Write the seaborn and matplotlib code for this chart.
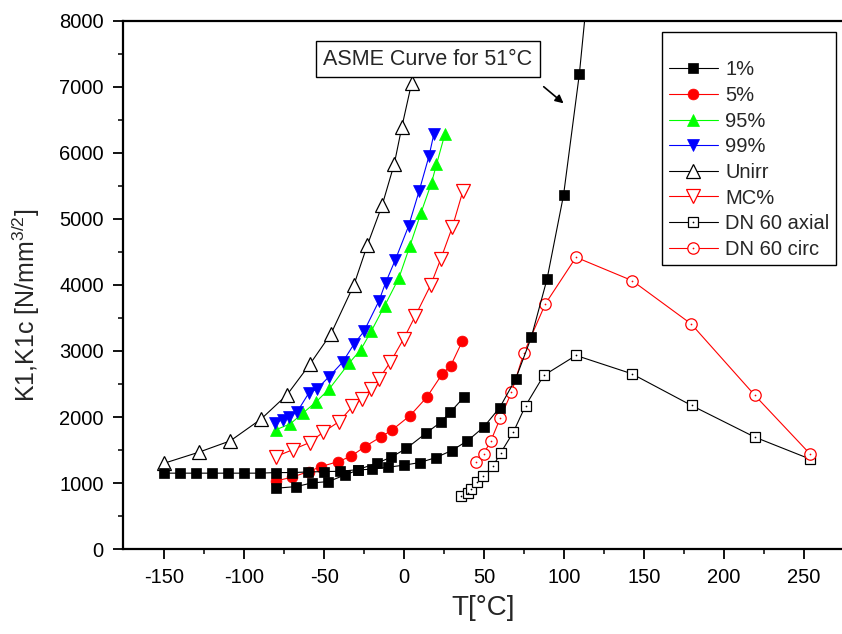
import matplotlib
matplotlib.use("Agg")
import matplotlib.pyplot as plt
from matplotlib.legend_handler import HandlerTuple
import seaborn as sns

# ---------------- data ----------------
p1_x = [-150, -140, -130, -120, -110, -100, -90, -80.2, -70, -60, -50, -40, -29, -17, -8, 1.5, 13.5, 23, 29, 37.3]
p1_y = [1152, 1152, 1152, 1152, 1152, 1152, 1152, 1161, 1161, 1170, 1176, 1180, 1205, 1303, 1394, 1527, 1752, 1924, 2076, 2297]

asme_x = [-80.2, -67.4, -57.5, -47.4, -36.8, -28.6, -19.9, -10, -0.3, 9.8, 19.9, 29.8, 39.7, 49.8, 59.9, 69.9, 79.6, 89.5, 99.8, 109.7, 119.5]
asme_y = [924, 949, 1005, 1024, 1126, 1202, 1212, 1242, 1272, 1312, 1388, 1494, 1641, 1848, 2145, 2580, 3206, 4091, 5358, 7191, 9600]

p5_x = [-80.2, -70.4, -59.8, -51.9, -41.2, -33.1, -24.6, -14.6, -7.6, 3.8, 14.1, 24, 29.2, 36.4]
p5_y = [1035, 1088, 1176, 1252, 1327, 1408, 1552, 1700, 1803, 2024, 2297, 2656, 2777, 3145]

p95_x = [-80.2, -71.2, -63.3, -54.8, -46.7, -34.2, -27.1, -20.6, -12.1, -3.2, 3.6, 10.6, 17.2, 20.3, 25.5]
p95_y = [1808, 1898, 2060, 2236, 2430, 2822, 3020, 3297, 3686, 4106, 4585, 5091, 5545, 5823, 6277]

p99_x = [-80.5, -76, -71.9, -67, -59.6, -54.6, -47, -38.5, -31.3, -25.1, -15.8, -11.6, -5.4, 2.8, 9.4, 15.6, 18.7]
p99_y = [1915, 1959, 2009, 2076, 2364, 2424, 2610, 2830, 3106, 3297, 3752, 4030, 4383, 4888, 5418, 5948, 6288]

unirr_x = [-150, -128.3, -108.7, -89.5, -73.2, -58.7, -45.7, -31.3, -23, -13.7, -6.1, -1.4, 4.8]
unirr_y = [1303, 1470, 1641, 1970, 2338, 2808, 3262, 4005, 4600, 5206, 5833, 6388, 7061]

mc_x = [-80.2, -69.8, -59.1, -50.5, -40.6, -32.3, -26.5, -20.9, -15.8, -8.5, -0.3, 6.9, 16.8, 23, 30.2, 36.8]
mc_y = [1403, 1505, 1615, 1773, 1933, 2161, 2273, 2424, 2576, 2833, 3182, 3524, 4005, 4394, 4873, 5418]

axial_x = [35.4, 39.9, 41.6, 45.5, 49.7, 55.9, 60.6, 68.4, 76, 87.4, 107.6, 142.5, 179.9, 219.5, 254.2]
axial_y = [808, 858, 914, 1015, 1111, 1267, 1464, 1773, 2171, 2630, 2933, 2656, 2176, 1697, 1364]

circ_x = [45.1, 49.8, 54.4, 60.2, 67.2, 75, 88.4, 107.6, 142.7, 179.7, 219.6, 254.2]
circ_y = [1318, 1444, 1645, 1985, 2373, 2970, 3712, 4418, 4065, 3409, 2327, 1439]

labels = ["1%", "5%", "95%", "99%", "Unirr", "MC%", "DN 60 axial", "DN 60 circ"]
x_ticks = [-150, -100, -50, 0, 50, 100, 150, 200, 250]
y_ticks = [0, 1000, 2000, 3000, 4000, 5000, 6000, 7000, 8000]
annot_text = "ASME Curve for 51°C"

# ---------------- style ----------------
sns.set_theme(style="ticks")
plt.rcParams["font.family"] = ["Liberation Sans", "DejaVu Sans"]
plt.rcParams["mathtext.default"] = "regular"
plt.rcParams["axes.unicode_minus"] = False

fig = plt.figure(figsize=(8.42, 6.34), dpi=100)
ax = fig.add_axes([122.5 / 842, (634 - 549.3) / 634, 721 / 842, 528.8 / 634])

LW = 0.8


def series(x, y, color, marker, ms, fc, ec, mew=1.0, label=None, z=2):
    sns.lineplot(x=x, y=y, ax=ax, sort=False, estimator=None, color=color,
                 linewidth=LW, marker=marker, markersize=ms,
                 markerfacecolor=fc, markeredgecolor=ec, markeredgewidth=mew,
                 label=label, zorder=z)
    return ax.lines[-1]


h5 = series(p5_x, p5_y, "red", "o", 7.8, "red", "red", 0.5, "5%", 2)
h95 = series(p95_x, p95_y, "#00ff00", "^", 9.0, "#00ff00", "#00ff00", 0.5, "95%", 2)
h99 = series(p99_x, p99_y, "blue", "v", 9.0, "blue", "blue", 0.5, "99%", 2)
hun = series(unirr_x, unirr_y, "black", "^", 9.5, "white", "black", 0.9, "Unirr", 2)
hmc = series(mc_x, mc_y, "red", "v", 9.5, "white", "red", 0.9, "MC%", 2)
hax = series(axial_x, axial_y, "black", "s", 7.0, "white", "black", 0.9, "DN 60 axial", 3)
hax_d = series(axial_x, axial_y, "black", ".", 1.5, "black", "black", 0.5, None, 3)
hax_d.set_linestyle("none")
hci = series(circ_x, circ_y, "red", "o", 8.2, "white", "red", 0.9, "DN 60 circ", 3)
hci_d = series(circ_x, circ_y, "red", ".", 1.5, "red", "red", 0.5, None, 3)
hci_d.set_linestyle("none")
h1 = series(p1_x, p1_y, "black", "s", 7.5, "black", "black", 0.5, "1%", 4)
series(asme_x, asme_y, "black", "s", 7.5, "black", "black", 0.5, None, 4)

# ---------------- axes ----------------
ax.set_xlim(-176.2, 271.9)
ax.set_ylim(0, 8000)
ax.set_xticks(x_ticks)
ax.set_yticks(y_ticks)
ax.set_xticks([t + 25 for t in [-175] + x_ticks], minor=True)
ax.set_yticks([t + 500 for t in y_ticks[:-1]], minor=True)
ax.tick_params(which="major", direction="out", length=7.5, width=1.3,
               labelsize=14.5, pad=6, colors="black")
ax.tick_params(which="minor", direction="out", length=3.8, width=1.3)
ax.tick_params(top=False, right=False, which="both")
for s in ax.spines.values():
    s.set_linewidth(1.6)
    s.set_color("black")
    s.set_visible(True)

ax.set_xlabel("T[°C]", fontsize=20, labelpad=6)
ax.set_ylabel(r"K1,K1c [N/mm$^{3/2}$]", fontsize=18)
ax.yaxis.set_label_coords(-0.112, 0.462)

# ---------------- annotation ----------------
ax.text(14.9, 7417, annot_text, ha="center", va="center", fontsize=15.5,
        bbox=dict(boxstyle="square,pad=0.33", fc="white", ec="black", lw=1.0),
        zorder=6)
ax.annotate("", xy=(99.8, 6747), xytext=(87.4, 6998),
            arrowprops=dict(arrowstyle="-|>", color="black", lw=1.2,
                            mutation_scale=12, shrinkA=0, shrinkB=0), zorder=6)

# ---------------- legend ----------------
leg0 = ax.get_legend()
if leg0 is not None:
    leg0.remove()
handles = [h1, h5, h95, h99, hun, hmc, (hax, hax_d), (hci, hci_d)]
leg = ax.legend(handles, labels, loc="upper left",
                bbox_to_anchor=(662 / 842, 1 - 32 / 634),
                bbox_transform=fig.transFigure, borderaxespad=0,
                fontsize=14.5, title=" ", title_fontsize=12,
                handlelength=2.45, handletextpad=0.35, labelspacing=0.33,
                borderpad=0.33, numpoints=1, frameon=True, fancybox=False,
                framealpha=1, handler_map={tuple: HandlerTuple(ndivide=1, pad=0)})
leg.get_frame().set_edgecolor("black")
leg.get_frame().set_linewidth(1.0)
leg.set_zorder(10)

fig.savefig("out.png", dpi=100)
